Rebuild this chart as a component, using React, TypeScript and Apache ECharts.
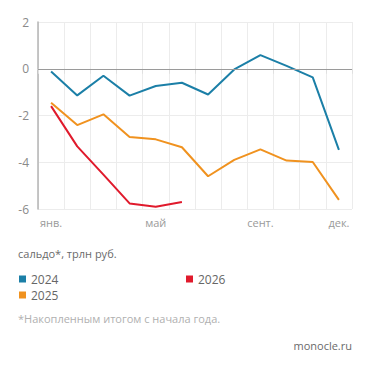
import React, { useEffect, useRef } from "react";
import * as echarts from "echarts";

// Месяцы (подписаны только некоторые)
const months = ["янв.", "фев.", "март", "апр.", "май", "июнь", "июль", "авг.", "сент.", "окт.", "нояб.", "дек."];
const shownMonths = ["янв.", "май", "сент.", "дек."];

// Сальдо накопленным итогом, трлн руб.
const saldo2024 = [-0.12, -1.14, -0.3, -1.15, -0.74, -0.6, -1.1, -0.03, 0.58, 0.12, -0.37, -3.47];
const saldo2025 = [-1.45, -2.41, -1.95, -2.92, -3.02, -3.36, -4.6, -3.9, -3.45, -3.93, -3.99, -5.61];
const saldo2026 = [-1.6, -3.32, -4.53, -5.76, -5.9, -5.7];

const yTicks = { min: -6, max: 2, interval: 2 };

const COLORS = { y2024: "#1b7fa7", y2025: "#f0921f", y2026: "#e01a2c" };
const FONT = "Open Sans";

export default function App() {
  const ref = useRef<HTMLDivElement>(null);

  useEffect(() => {
    if (!ref.current) return;
    const chart = echarts.init(ref.current, undefined, { renderer: "svg" });

    const lineSeries = (name: string, data: number[], color: string) => ({
      name,
      type: "line",
      data,
      symbol: "none",
      lineStyle: { color, width: 2 },
      itemStyle: { color },
    });

    const legendBase = {
      orient: "vertical",
      top: 268,
      itemWidth: 7,
      itemHeight: 7,
      itemGap: 4,
      icon: "rect",
      textStyle: { color: "#666", fontSize: 12, fontFamily: FONT },
    };

    chart.setOption({
      animation: false,
      textStyle: { fontFamily: FONT },
      grid: { left: 38, right: 19, top: 22, bottom: 161 },
      xAxis: {
        type: "category",
        data: months,
        boundaryGap: true,
        axisLine: { show: true, lineStyle: { color: "#e6e6e6", width: 1 } },
        axisTick: { show: true, length: 5, lineStyle: { color: "#e0e0e0" } },
        splitLine: { show: true, lineStyle: { color: "#ececec", width: 1 } },
        axisLabel: {
          interval: 0,
          color: "#9a9a9a",
          fontSize: 11,
          fontFamily: FONT,
          margin: 8,
          formatter: (v: string) => (shownMonths.includes(v) ? v : ""),
        },
      },
      yAxis: {
        type: "value",
        min: yTicks.min,
        max: yTicks.max,
        interval: yTicks.interval,
        axisLine: { show: true, lineStyle: { color: "#b5b5b5", width: 1.5 } },
        axisTick: { show: false },
        splitLine: { show: true, lineStyle: { color: "#ececec", width: 1 } },
        axisLabel: { color: "#8a8a8a", fontSize: 12, fontFamily: FONT, margin: 9 },
      },
      legend: [
        { ...legendBase, data: ["2024", "2025"], left: 14 },
        { ...legendBase, data: ["2026"], left: 181 },
      ],
      graphic: [
        {
          type: "text",
          left: 18,
          top: 248,
          style: { text: "сальдо*, трлн руб.", fill: "#6a6a6a", fontSize: 11, fontFamily: FONT },
        },
        {
          type: "text",
          left: 18,
          top: 313,
          style: { text: "*Накопленным итогом с начала года.", fill: "#b0b0b0", fontSize: 11, fontFamily: FONT },
        },
        {
          type: "text",
          right: 19,
          top: 340,
          style: { text: "monocle.ru", fill: "#6a6a6a", fontSize: 11, fontFamily: FONT },
        },
      ],
      series: [
        {
          ...lineSeries("2024", saldo2024, COLORS.y2024),
          markLine: {
            silent: true,
            symbol: "none",
            label: { show: false },
            lineStyle: { color: "#9a9a9a", width: 1, type: "solid" },
            data: [{ yAxis: 0 }],
          },
        },
        lineSeries("2025", saldo2025, COLORS.y2025),
        lineSeries("2026", saldo2026, COLORS.y2026),
      ],
    });

    return () => chart.dispose();
  }, []);

  return <div ref={ref} style={{ width: 371, height: 370, position: "absolute", left: 0, top: 0 }} />;
}
